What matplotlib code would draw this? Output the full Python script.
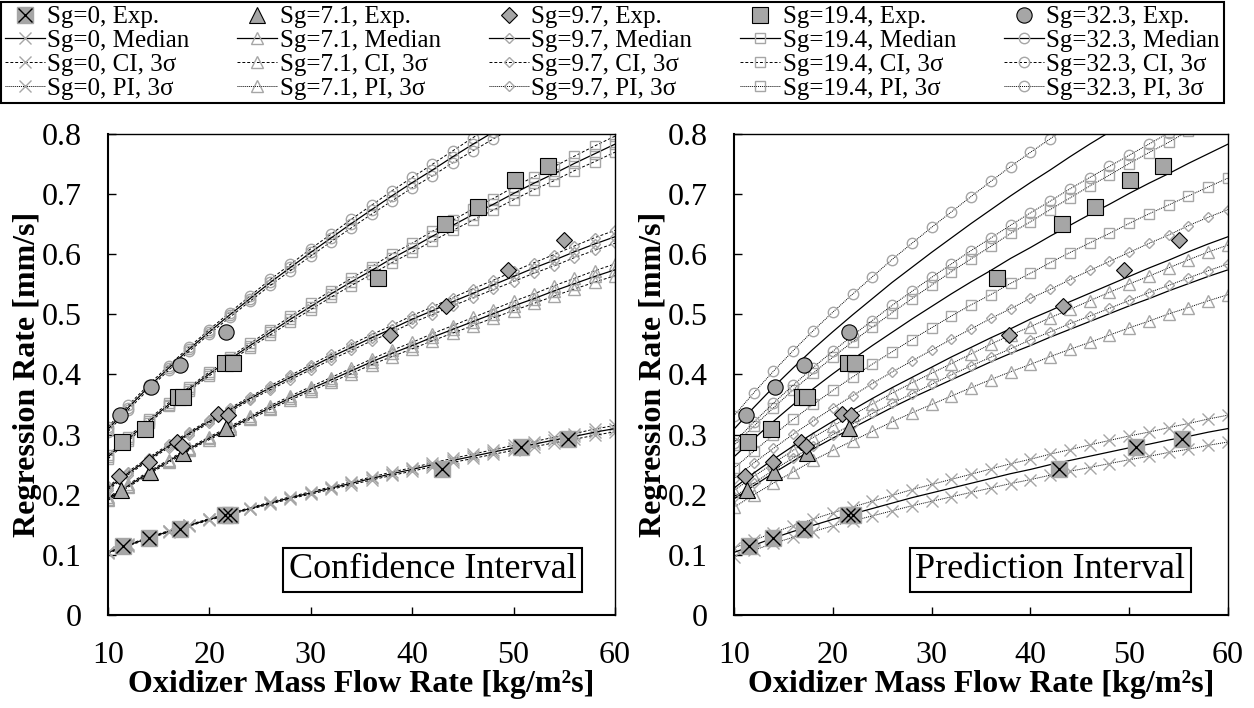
import matplotlib
matplotlib.use("Agg")
import matplotlib.pyplot as plt
from matplotlib.legend_handler import HandlerTuple

plt.rcParams['font.family'] = ['Liberation Serif', 'DejaVu Serif']

# oxidizer mass flux where the fitted curves are sampled [kg/m2s]
G = [10, 12, 14, 16, 18, 20, 22, 24, 26, 28, 30, 32, 34,
     36, 38, 40, 42, 44, 46, 48, 50, 52, 54, 56, 58, 60]

# median regression rate [mm/s]
med_sg0 = [0.104, 0.116, 0.128, 0.139, 0.149, 0.159, 0.168, 0.177, 0.186,
           0.195, 0.203, 0.211, 0.219, 0.227, 0.235, 0.242, 0.250, 0.257,
           0.264, 0.271, 0.278, 0.284, 0.291, 0.297, 0.304, 0.310]
med_sg71 = [0.193, 0.215, 0.236, 0.256, 0.276, 0.294, 0.311, 0.328, 0.345,
            0.361, 0.376, 0.391, 0.406, 0.421, 0.435, 0.448, 0.462, 0.475,
            0.488, 0.501, 0.514, 0.526, 0.539, 0.551, 0.563, 0.574]
med_sg97 = [0.211, 0.236, 0.259, 0.281, 0.302, 0.322, 0.341, 0.360, 0.378,
            0.395, 0.412, 0.429, 0.445, 0.461, 0.476, 0.492, 0.506, 0.521,
            0.535, 0.549, 0.563, 0.577, 0.590, 0.604, 0.617, 0.629]
med_sg194 = [0.263, 0.293, 0.322, 0.350, 0.376, 0.401, 0.425, 0.448, 0.470,
             0.492, 0.513, 0.534, 0.554, 0.573, 0.593, 0.611, 0.630, 0.648,
             0.666, 0.683, 0.701, 0.718, 0.734, 0.751, 0.767, 0.783]
med_sg323 = [0.309, 0.345, 0.379, 0.411, 0.442, 0.471, 0.499, 0.526, 0.553,
             0.578, 0.603, 0.627, 0.651, 0.674, 0.697, 0.719, 0.740, 0.762,
             0.783, 0.803, 0.823, 0.843, 0.863, 0.882, 0.902, 0.920]

# half width of the 3 sigma bands, read as a fraction of the median
ci_rel = [0.013, 0.011, 0.010, 0.009, 0.008, 0.008, 0.008, 0.008, 0.009,
          0.009, 0.010, 0.010, 0.011, 0.011, 0.012, 0.012, 0.013, 0.013,
          0.014, 0.014, 0.015, 0.015, 0.016, 0.016, 0.017, 0.017]
pi_rel = [0.072, 0.071, 0.070, 0.070, 0.069, 0.069, 0.069, 0.069, 0.069,
          0.069, 0.069, 0.069, 0.069, 0.070, 0.070, 0.070, 0.070, 0.070,
          0.071, 0.071, 0.071, 0.071, 0.071, 0.072, 0.072, 0.072]

# experiments
exp_g_sg0 = [11.5, 14.0, 17.1, 21.5, 22.0, 42.9, 50.7, 55.4]
exp_r_sg0 = [0.114, 0.128, 0.143, 0.166, 0.167, 0.242, 0.280, 0.292]
exp_g_sg71 = [11.3, 14.1, 17.4, 21.6]
exp_r_sg71 = [0.208, 0.237, 0.269, 0.311]
exp_g_sg97 = [11.1, 14.0, 16.8, 17.3, 20.9, 21.8, 37.8, 43.3, 49.5, 55.0]
exp_r_sg97 = [0.231, 0.255, 0.287, 0.281, 0.335, 0.332, 0.465, 0.514, 0.573, 0.623]
exp_g_sg194 = [11.4, 13.7, 16.9, 17.4, 21.5, 22.3, 36.6, 43.2, 46.5, 50.1, 53.4]
exp_r_sg194 = [0.287, 0.309, 0.362, 0.362, 0.419, 0.419, 0.560, 0.651, 0.679, 0.724, 0.747]
exp_g_sg323 = [11.2, 14.2, 17.1, 21.6]
exp_r_sg323 = [0.332, 0.379, 0.415, 0.470]

sg_names = ["0", "7.1", "9.7", "19.4", "32.3"]
medians = [med_sg0, med_sg71, med_sg97, med_sg194, med_sg323]
exp_g = [exp_g_sg0, exp_g_sg71, exp_g_sg97, exp_g_sg194, exp_g_sg323]
exp_r = [exp_r_sg0, exp_r_sg71, exp_r_sg97, exp_r_sg194, exp_r_sg323]

x_ticks = [10, 20, 30, 40, 50, 60]
y_ticks = [0, 0.1, 0.2, 0.3, 0.4, 0.5, 0.6, 0.7, 0.8]
y_tick_labels = ["0", "0.1", "0.2", "0.3", "0.4", "0.5", "0.6", "0.7", "0.8"]

# styles
GRAY = '#a6a6a6'
line_mk = ['x', '^', 'D', 's', 'o']
line_ms = [8, 8, 5.5, 7.5, 7.5]
exp_mk = ['s', '^', 'D', 's', 'o']
exp_ms = [11, 11, 8.5, 12, 11]

fig = plt.figure(figsize=(12.54, 7.08), dpi=100)
axL = fig.add_axes([0.0861, 0.1314, 0.4043, 0.6794])
axR = fig.add_axes([0.5853, 0.1314, 0.3939, 0.6794])

handles = []
labels = []
for i, sg in enumerate(sg_names):
    med = medians[i]
    ci_lo = [m * (1 - c) for m, c in zip(med, ci_rel)]
    ci_hi = [m * (1 + c) for m, c in zip(med, ci_rel)]
    pi_lo = [m * (1 - p) for m, p in zip(med, pi_rel)]
    pi_hi = [m * (1 + p) for m, p in zip(med, pi_rel)]
    mk = dict(marker=line_mk[i], ms=line_ms[i], mfc='none', mec=GRAY, mew=1.0)

    # left: confidence interval
    h_ci, = axL.plot(G, ci_hi, color='k', lw=0.7, ls=(0, (3, 2)), **mk)
    axL.plot(G, ci_lo, color='k', lw=0.7, ls=(0, (3, 2)), **mk)
    h_med, = axL.plot(G, med, color='k', lw=0.9, **mk)

    # right: prediction interval
    h_pi, = axR.plot(G, pi_hi, color='k', lw=0.7, ls=(0, (1, 1)), **mk)
    axR.plot(G, pi_lo, color='k', lw=0.7, ls=(0, (1, 1)), **mk)
    axR.plot(G, med, color='k', lw=0.9)

    for ax in (axL, axR):
        if i == 0:
            a, = ax.plot(exp_g[i], exp_r[i], ls='none', marker='s', ms=exp_ms[i],
                         mfc=GRAY, mec=GRAY, zorder=4)
            b, = ax.plot(exp_g[i], exp_r[i], ls='none', marker='x', ms=10,
                         mec='k', mew=1.0, zorder=5)
            h_exp = (a, b)
        else:
            h_exp, = ax.plot(exp_g[i], exp_r[i], ls='none', marker=exp_mk[i],
                             ms=exp_ms[i], mfc=GRAY, mec='k', mew=0.8, zorder=4)

    handles += [h_exp, h_med, h_ci, h_pi]
    labels += [f"Sg={sg}, Exp.", f"Sg={sg}, Median", f"Sg={sg}, CI, 3σ", f"Sg={sg}, PI, 3σ"]

for ax, txt in ((axL, "Confidence Interval"), (axR, "Prediction Interval")):
    ax.set_xlim(10, 60)
    ax.set_ylim(0, 0.8)
    ax.set_xticks(x_ticks)
    ax.set_yticks(y_ticks)
    ax.set_yticklabels(y_tick_labels)
    ax.tick_params(direction='in', length=6, width=1, pad=19, labelsize=23)
    for s in ax.spines.values():
        s.set_linewidth(1.0)
    ax.spines['left'].set_linewidth(1.5)
    ax.spines['bottom'].set_linewidth(1.5)
    ax.set_xlabel("Oxidizer Mass Flow Rate [kg/m²s]", fontsize=23, fontweight='bold', labelpad=0)
    ax.set_ylabel("Regression Rate [mm/s]", fontsize=23, fontweight='bold', labelpad=0)
    ax.text(0.64, 0.094, txt, transform=ax.transAxes, ha='center', va='center', fontsize=26,
            bbox=dict(boxstyle='square,pad=0.15', fc='white', ec='k', lw=1.5), zorder=6)

leg = fig.legend(handles, labels, ncol=5, loc='upper left',
                 bbox_to_anchor=(0.0008, 0.997, 0.975, 0), mode='expand',
                 fontsize=18, handlelength=1.6, handletextpad=0.1,
                 labelspacing=0.05, borderpad=0.15, borderaxespad=0,
                 fancybox=False, edgecolor='k', framealpha=1,
                 handler_map={tuple: HandlerTuple(ndivide=1)})
leg.get_frame().set_linewidth(1.5)

fig.savefig("out.png", dpi=100)
